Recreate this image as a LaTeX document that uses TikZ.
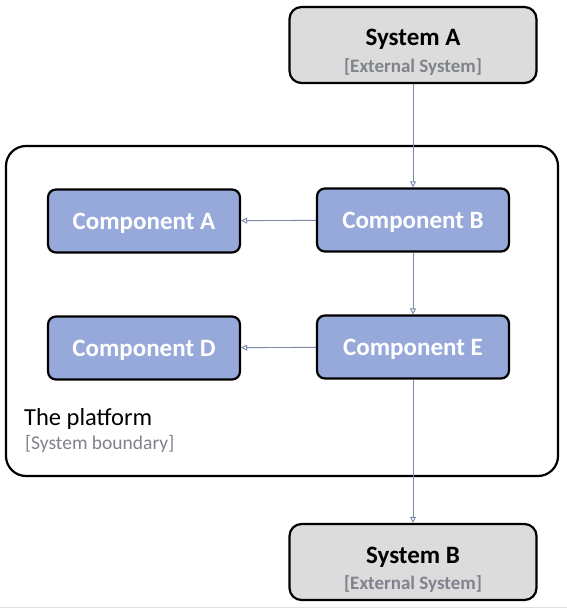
\documentclass[tikz,border=0pt]{standalone}
\usepackage{fontspec}
\setmainfont{Carlito}
\usepackage{tikz}
\usetikzlibrary{arrows.meta}
\definecolor{compblue}{RGB}{151,169,219}
\definecolor{sysgray}{RGB}{220,220,220}
\definecolor{linkblue}{RGB}{125,136,172}
\definecolor{subgray}{RGB}{128,130,140}
\pgfdeclarelayer{edgelayer}
\pgfdeclarelayer{nodelayer}
\pgfsetlayers{edgelayer,nodelayer,main}
\tikzstyle{edge}=[draw=linkblue, line width=0.9pt, -{Triangle[open, length=6pt, width=6pt]}]
\tikzstyle{component}=[rectangle, rounded corners=8pt, fill=compblue, draw=black, line width=2.2pt, minimum width=192pt, minimum height=63pt, text=white, text depth=0pt, font=\fontsize{25}{28}\selectfont\bfseries]
\tikzstyle{system}=[rectangle, rounded corners=12pt, fill=sysgray, draw=black, line width=2.2pt, minimum width=247pt, minimum height=76pt, align=center, text height=54pt, text depth=0pt, font=\fontsize{25}{24}\selectfont\bfseries]
\tikzstyle{boundary}=[draw=black, line width=2.2pt, rounded corners=20pt]

\begin{document}
\begin{tikzpicture}[x=1pt, y=-1pt]
			\useasboundingbox (0, 0) rectangle (567, 610);
			\begin{pgfonlayer}{nodelayer}
				\node [style=system] (0) at (413, 45) {System A\\[2pt]{\fontsize{19}{20}\selectfont\color{subgray}[External System]}};
				\node [style=component] (1) at (144, 221) {Component A};
				\node [style=component] (2) at (413, 220) {Component B};
				\node [style=component] (3) at (144, 348) {Component D};
				\node [style=component] (4) at (413, 347) {Component E};
				\node [style=system] (5) at (413, 562) {System B\\[2pt]{\fontsize{19}{20}\selectfont\color{subgray}[External System]}};
				\node [anchor=base west, inner sep=0pt, font=\fontsize{24.5}{28}\selectfont] (6) at (24, 425) {The platform};
				\node [anchor=base west, inner sep=0pt, font=\fontsize{19.5}{22}\selectfont, text=subgray] (7) at (25, 449) {[System boundary]};
			\end{pgfonlayer}
			\begin{pgfonlayer}{edgelayer}
				\draw [style=boundary] (6, 146) rectangle (558, 476);
				\draw [draw=black!12, line width=1pt] (0, 607) -- (567, 607);
				\draw [style=edge] (0) to (2);
				\draw [style=edge] (2) to (1);
				\draw [style=edge] (2) to (4);
				\draw [style=edge] (4) to (3);
				\draw [style=edge] (4) to (5);
			\end{pgfonlayer}
		\end{tikzpicture}
\end{document}
